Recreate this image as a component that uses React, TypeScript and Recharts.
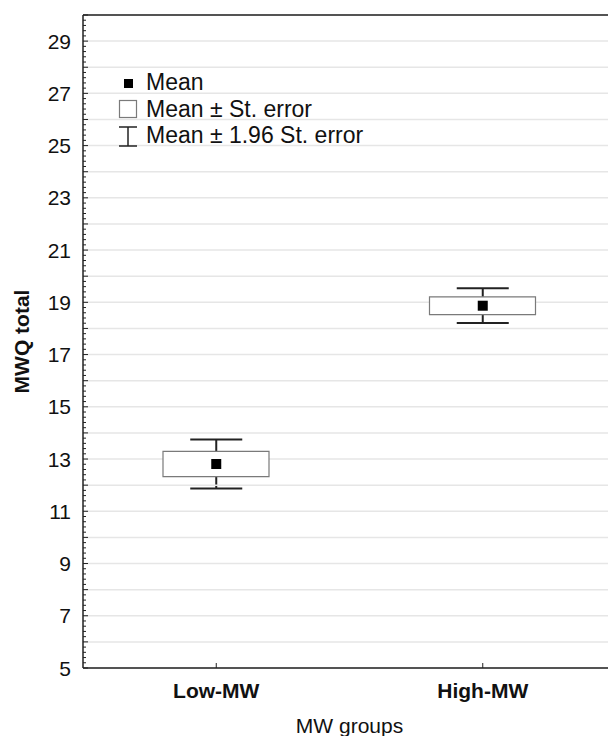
import { ComposedChart, Bar, Scatter, ErrorBar, XAxis, YAxis, ReferenceLine, Label } from "recharts";

const groups = ["Low-MW", "High-MW"];
const means = [12.81, 18.87];
const stdErrors = [0.48, 0.34];
const yGridValues = [5, 6, 7, 8, 9, 10, 11, 12, 13, 14, 15, 16, 17, 18, 19, 20, 21, 22, 23, 24, 25, 26, 27, 28, 29, 30];
const yLabelTicks = [5, 7, 9, 11, 13, 15, 17, 19, 21, 23, 25, 27, 29];
// axis ticks every 0.2 (minor), integers get the longer tick
const yAxisTicks = Array.from({ length: 126 }, (_, i) => Math.round((5 + i * 0.2) * 10) / 10);

const FONT = "'Liberation Sans', Arial, sans-serif";
const Y_MARGIN = 12;
const X_MARGIN = 8;

const data = groups.map((name, i) => ({
  name,
  mean: means[i],
  seBox: [means[i] - stdErrors[i], means[i] + stdErrors[i]],
  ci: 1.96 * stdErrors[i],
}));

const Empty = () => <g />;

const MeanMarker = (props: any) => {
  const { cx, cy } = props;
  return <rect x={cx - 5} y={cy - 5} width={10} height={10} fill="#000" />;
};

const YTick = (props: any) => {
  const { x, y, payload } = props;
  const v = payload.value;
  const major = Number.isInteger(v);
  const axisX = x + Y_MARGIN;
  return (
    <g>
      <line x1={axisX} x2={axisX + (major ? 5 : 3)} y1={y} y2={y} stroke="#222" strokeWidth={1} />
      {yLabelTicks.includes(v) && (
        <text x={x} y={y} dy="0.36em" textAnchor="end" fill="#111" fontSize={21} fontFamily={FONT}>
          {v}
        </text>
      )}
    </g>
  );
};

const XTick = (props: any) => {
  const { x, y, payload } = props;
  const axisY = y - X_MARGIN;
  return (
    <g>
      <line x1={x} x2={x} y1={axisY} y2={axisY - 5} stroke="#222" strokeWidth={1} />
      <text x={x} y={axisY + 30} textAnchor="middle" fill="#111" fontSize={21} fontWeight="bold" fontFamily={FONT}>
        {payload.value}
      </text>
    </g>
  );
};

export default function App() {
  return (
    <div style={{ position: "absolute", left: 0, top: 0, width: 608, height: 736, overflow: "hidden", background: "#fff" }}>
      <ComposedChart width={620} height={736} data={data} margin={{ top: 15, right: 4, bottom: 0, left: 0 }}>
        {yGridValues.map((v) => (
          <ReferenceLine key={v} y={v} stroke="#e6e6e6" strokeWidth={1.5} />
        ))}
        <XAxis
          dataKey="name"
          height={68}
          interval={0}
          tickSize={0}
          tickMargin={X_MARGIN}
          tickLine={false}
          axisLine={{ stroke: "#222", strokeWidth: 1.5 }}
          tick={<XTick />}
        >
          <Label value="MW groups" position="insideBottom" offset={3} style={{ fill: "#111", fontSize: 21, fontFamily: FONT }} />
        </XAxis>
        <YAxis
          type="number"
          width={83}
          domain={[5, 30]}
          ticks={yAxisTicks}
          interval={0}
          tickSize={0}
          tickMargin={Y_MARGIN}
          tickLine={false}
          axisLine={{ stroke: "#222", strokeWidth: 1.5 }}
          tick={<YTick />}
        >
          <Label
            value="MWQ total"
            angle={-90}
            position="insideLeft"
            offset={22}
            style={{ fill: "#111", fontSize: 21, fontWeight: "bold", fontFamily: FONT, textAnchor: "middle" }}
          />
        </YAxis>
        <ReferenceLine y={30} stroke="#222" strokeWidth={1.5} />
        <Scatter dataKey="mean" shape={Empty} isAnimationActive={false} zIndex={250}>
          <ErrorBar dataKey="ci" direction="y" width={26} stroke="#222" strokeWidth={2} isAnimationActive={false} zIndex={250} />
        </Scatter>
        <Bar dataKey="seBox" barSize={106} fill="#fff" stroke="#7a7a7a" strokeWidth={1.2} isAnimationActive={false} zIndex={450} />
        <Scatter dataKey="mean" shape={MeanMarker} isAnimationActive={false} zIndex={700} />
      </ComposedChart>
      <svg width={608} height={736} style={{ position: "absolute", left: 0, top: 0, pointerEvents: "none" }}>
        <g fontFamily={FONT} fontSize={23} fill="#111">
          <rect x={124} y={79} width={9} height={9} fill="#000" />
          <text x={146} y={90}>Mean</text>
          <rect x={119.5} y={100.5} width={17} height={17} fill="#fff" stroke="#7a7a7a" strokeWidth={1.2} />
          <text x={146} y={117}>Mean ± St. error</text>
          <line x1={119} y1={127} x2={137} y2={127} stroke="#222" strokeWidth={1.5} />
          <line x1={128} y1={127} x2={128} y2={146} stroke="#222" strokeWidth={1.5} />
          <line x1={119} y1={146} x2={137} y2={146} stroke="#222" strokeWidth={1.5} />
          <text x={146} y={143}>Mean ± 1.96 St. error</text>
        </g>
      </svg>
    </div>
  );
}
